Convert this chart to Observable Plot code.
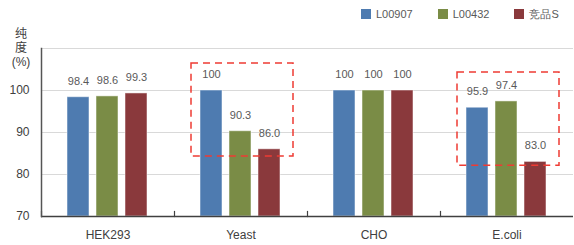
<!DOCTYPE html>
<html><head><meta charset="utf-8">
<script src="https://cdn.jsdelivr.net/npm/d3@7"></script>
<script src="https://cdn.jsdelivr.net/npm/@observablehq/plot@0.6"></script>
<style>
body{margin:0;background:#fff;font-family:"Liberation Sans",Arial,sans-serif;}
#wrap{position:relative;width:574px;height:245px;}
#legend{position:absolute;left:361px;top:7px;width:213px;display:flex;white-space:nowrap;font-size:11px;color:#595959;line-height:14px;}
#legend .it{display:flex;align-items:center;margin-right:25px;white-space:nowrap;flex:none;}
#legend .sw{width:10px;height:10px;margin-right:5px;flex:none;}
#ylab{position:absolute;left:8px;top:27px;width:26px;text-align:center;font-size:12px;line-height:14px;color:#404040;font-family:"Liberation Sans","Noto Sans CJK SC",sans-serif;}
#ylab div{height:14px;}
</style></head>
<body><div id="wrap"><div id="chart"></div><div id="legend"></div><div id="ylab"></div></div>
<script>
const categories = ["HEK293","Yeast","CHO","E.coli"];
const series = ["L00907","L00432","竞品S"];
const colors = ["#4e7bb0","#7a8c46","#8a393c"];
const l00907 = [98.4,100,100,95.9];
const l00432 = [98.6,90.3,100,97.4];
const rivalS = [99.3,86.0,100,83.0];
const yMin = 70, yMax = 110;
const yTicks = [70,80,90,100];
const gridTicks = [80,90,100,110];
const yLabelLines = ["纯","度","(%)"];
const boxCats = ["Yeast","E.coli"];
const boxLow = [84.3,82.1];
const boxHigh = [106.4,104.3];

const values = [l00907,l00432,rivalS];
const data = [];
categories.forEach((c,i)=>series.forEach((s,j)=>data.push({cat:c, series:s, value:values[j][i]})));
const boxes = boxCats.map((c,i)=>({cat:c, lo:boxLow[i], hi:boxHigh[i]}));

const W=574,H=245,mT=48,mB=29,mL=40,mR=0;
const innerH = H-mT-mB;
const fmt = v => v===100 ? "100" : v.toFixed(1);

const chart = Plot.plot({
  width:W, height:H, marginTop:mT, marginBottom:mB, marginLeft:mL, marginRight:mR,
  style:{fontFamily:'"Liberation Sans",Arial,sans-serif', background:"#fff"},
  fx:{domain:categories, padding:0, label:null},
  x:{domain:series, paddingInner:0.233, paddingOuter:0.842, axis:null},
  y:{domain:[yMin,yMax], label:null},
  color:{domain:series, range:colors},
  marks:[
    Plot.ruleY(gridTicks,{stroke:"#d9d9d9", strokeWidth:1}),
    Plot.barY(data,{fx:"cat", x:"series", y1:yMin, y2:"value", fill:"series", stroke:"#fff", strokeOpacity:0.5, strokeWidth:1}),
    Plot.text(data,{fx:"cat", x:"series", y:"value", text:d=>fmt(d.value), dy:-16, fontSize:11, fill:"#595959"}),
    Plot.rect(boxes,{fx:"cat", y1:"lo", y2:"hi", insetLeft:17, insetRight:14, fill:"none", stroke:"#ee3b33", strokeWidth:1.5, strokeDasharray:"7,5"}),
    Plot.ruleY([yMin],{stroke:"#404040", strokeWidth:1.5}),
    Plot.frame({anchor:"left", insetTop:innerH-5, stroke:"#404040", strokeWidth:1.2}),
    Plot.frame({anchor:"left", facet:"super", stroke:"#555", strokeWidth:1.5}),
    Plot.axisY({ticks:yTicks, tickSize:0, tickPadding:12, fontSize:12, fill:"#404040", label:null}),
    Plot.axisFx({anchor:"bottom", tickSize:0, tickPadding:14, fontSize:12, fill:"#404040", label:null})
  ]
});
document.getElementById("chart").appendChild(chart);

const lg = document.getElementById("legend");
series.forEach((s,i)=>{
  const it=document.createElement("div"); it.className="it";
  const sw=document.createElement("div"); sw.className="sw"; sw.style.background=colors[i];
  const t=document.createElement("span"); t.textContent=s;
  it.appendChild(sw); it.appendChild(t); lg.appendChild(it);
});
const yl = document.getElementById("ylab");
yLabelLines.forEach(s=>{const d=document.createElement("div"); const sp=document.createElement("span"); sp.textContent=s; d.appendChild(sp); yl.appendChild(d);});
</script></body></html>
